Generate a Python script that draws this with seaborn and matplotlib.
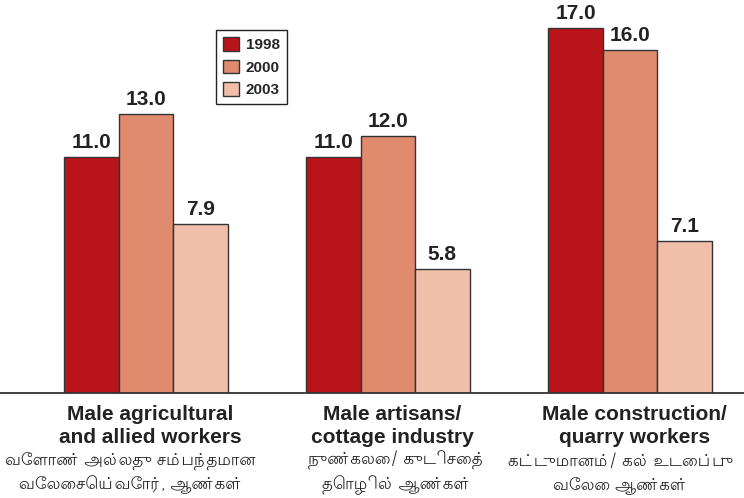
import matplotlib
matplotlib.use("Agg")
import matplotlib.pyplot as plt
from matplotlib.patches import Patch
import pandas as pd
import seaborn as sns

groups = ["Male agricultural\nand allied workers",
          "Male artisans/\ncottage industry",
          "Male construction/\nquarry workers"]
groups_ta = ["வேளாண் அல்லது சம்பந்தமான\nவேலைசெய்வோர், ஆண்கள்",
             "நுண்கலை/ குடிசைத்\nதொழில் ஆண்கள்",
             "கட்டுமானம்/ கல் உடைப்பு\nவேலை ஆண்கள்"]
years = ["1998", "2000", "2003"]
v1998 = [11.0, 11.0, 17.0]
v2000 = [13.0, 12.0, 16.0]
v2003 = [7.9, 5.8, 7.1]
colors = ["#BA141B", "#E08A6E", "#F0BEA9"]

rows = []
for year, vals in zip(years, [v1998, v2000, v2003]):
    for g, v in zip(groups, vals):
        rows.append({"group": g, "year": year, "value": v})
df = pd.DataFrame(rows)

sns.set_style("white")
plt.rcParams['font.family'] = ['Liberation Sans', 'DejaVu Sans']

fig = plt.figure(figsize=(7.44, 4.98), dpi=100)
ax = fig.add_axes([0, 105 / 498, 1, 393 / 498])

sns.barplot(data=df, x="group", y="value", hue="year", palette=colors,
            saturation=1, width=0.674, edgecolor="#333333", linewidth=1,
            legend=False, ax=ax)

for cont in ax.containers:
    ax.bar_label(cont, fmt="%.1f", padding=3.5, fontsize=15,
                 fontweight="bold", color="#222222")

ax.set_xlim(-0.603, 2.471)
ax.set_ylim(0, 18.32)
ax.set_xlabel("")
ax.set_ylabel("")
ax.set_yticks([])
ax.set_xticks(range(len(groups)))
ax.set_xticklabels([])
ax.tick_params(axis="x", length=0)
for s in ["top", "left", "right"]:
    ax.spines[s].set_visible(False)
ax.spines["bottom"].set_color("#333333")
ax.spines["bottom"].set_linewidth(1.3)

# nudge the tamil lines so the outer ones stay inside the figure
ta_shift = [-11, 6, -7]
for i, (en, ta) in enumerate(zip(groups, groups_ta)):
    ax.annotate(en, xy=(i, 0), xycoords=("data", "axes fraction"),
                xytext=(3, -8.5), textcoords="offset points",
                ha="center", va="top", fontsize=15, fontweight="bold",
                color="#222222", linespacing=1.3)
    ax.annotate(ta, xy=(i, 0), xycoords=("data", "axes fraction"),
                xytext=(ta_shift[i], -57.5), textcoords="offset points",
                ha="center", va="center", fontsize=12, color="#222222",
                family=["Lohit Tamil", "DejaVu Sans"], linespacing=1.35)

handles = [Patch(facecolor=c, edgecolor="#333333", linewidth=1) for c in colors]
leg = ax.legend(handles, years, loc="upper left",
                bbox_to_anchor=(216 / 744, 1 - 30 / 498),
                bbox_transform=fig.transFigure, borderaxespad=0,
                fancybox=False, framealpha=1, edgecolor="#222222",
                prop={"size": 11, "weight": "bold"},
                handlelength=1.05, handleheight=1.0, handletextpad=0.45,
                labelspacing=0.5, borderpad=0.45)
leg.get_frame().set_linewidth(1)

fig.savefig("out.png", dpi=100)
